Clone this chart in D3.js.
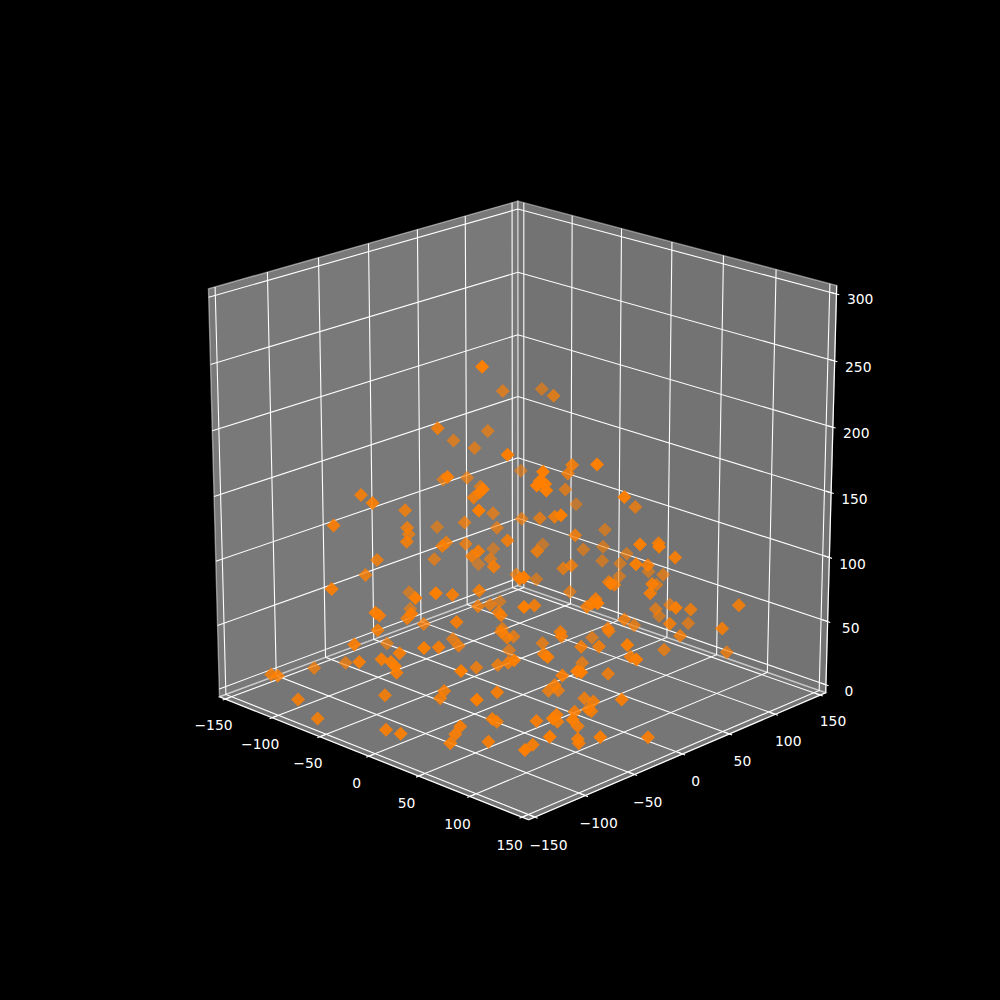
<!DOCTYPE html><html><head><meta charset="utf-8"><script src="https://cdn.jsdelivr.net/npm/d3@7"></script></head><body style="margin:0;background:#000"><svg width="1000" height="1000" style="display:block;background:#000"></svg><script>
const xTicks=[-150,-100,-50,0,50,100,150];
const yTicks=[-150,-100,-50,0,50,100,150];
const zTicks=[0,50,100,150,200,250,300];
const xs=[56,-99,-102,-48,-55,-117,-100,-104,82,57,-115,-103,-122,102,20,-4,-94,102,101,105,-48,75,-25,76,107,-86,77,-83,-134,-73,-78,0,-67,-34,20,118,11,-51,-33,-55,-69,-106,-16,19,
-123,-128,-76,-3,-97,-6,14,-13,-60,110,108,-71,59,13,-6,-28,-28,-45,-87,9,-16,115,25,20,-76,52,-58,43,44,128,115,15,-43,-41,131,78,147,120,-27,-29,-39,132,76,-11,
19,-27,14,148,40,112,17,113,55,148,85,21,28,148,84,2,130,51,35,97,41,125,44,-83,-43,-82,-59,-78,-100,-52,-88,-91,-45,-137,39,-134,-5,-39,-1,-21,-52,-28,-116,-4,
-127,-123,-18,-12,14,18,-2,-110,-103,-81,-37,-63,2,23,47,15,-59,-31,83,-18,12,16,-27,-50,-7,21,87,-11,38,103,56,82,14,147,147,49,20,25,-7,-8,52,98,50,54,
35,77,86,147,66,64,126,82,66,148,39,38,37,56,101,102,82,139,-8,65,141,45,83,88,55,83,147,52,72,116,72,143,136];
const ys=[-98,81,126,82,-31,47,66,56,-100,-133,34,47,124,-86,30,51,52,-89,-91,-87,95,-120,-25,-118,-88,147,-123,54,46,14,53,-16,68,53,12,-85,43,118,-49,-23,11,15,-36,-65,
95,84,44,-27,122,21,36,56,55,-113,-115,88,-147,-85,-39,79,-18,12,65,-32,-9,-118,-14,-88,-26,12,38,-6,-6,-60,-18,103,133,129,-19,59,-17,30,140,135,126,-24,50,147,
130,132,76,-67,54,15,125,12,18,-80,-18,120,128,0,88,145,88,53,81,51,134,76,43,-81,-108,-38,-131,-40,-17,-66,-61,-70,-147,19,-147,17,-108,-79,-147,-124,-96,-142,-25,-121,
-89,-61,-147,-131,-147,-147,-126,-147,-147,-148,-104,-146,-141,-147,-147,-101,-13,-35,-147,-30,-35,-33,18,37,-19,-37,-99,32,-18,-82,2,-45,48,-99,-95,-18,6,11,-74,-77,-80,-147,12,-87,
-63,-66,-55,-123,-33,-13,-81,-29,-1,-127,-104,-108,-112,-93,-49,-49,-75,-142,82,11,-42,43,78,124,92,25,-39,35,-2,-20,-4,-71,-14];
const zs=[283,186,176,194,195,151,158,146,226,212,124,125,106,215,170,152,119,209,206,207,117,202,148,204,203,82,190,100,78,106,90,119,96,109,135,187,110,62,115,105,91,68,108,129,
50,39,68,101,53,99,89,74,57,147,146,41,131,100,85,45,61,49,25,68,57,128,75,82,36,74,19,57,54,220,182,117,76,64,151,117,153,125,59,52,54,138,102,47,
57,43,65,140,76,107,50,101,79,129,94,33,36,103,59,15,75,52,35,62,23,59,46,150,161,127,146,115,98,118,93,83,106,32,122,20,87,66,100,86,58,67,9,61,
5,2,58,57,67,65,48,22,23,11,14,1,10,15,87,65,25,34,80,19,57,53,27,4,21,36,75,22,42,77,47,46,9,84,82,21,1,1,17,12,35,63,2,17,
2,16,20,56,2,3,36,2,2,44,12,7,1,2,4,1,2,36,13,47,85,44,41,16,18,40,75,15,10,30,3,25,5];

const azim=-46*Math.PI/180, elev=20*Math.PI/180, dist=10;
const w=[Math.cos(elev)*Math.cos(azim),Math.cos(elev)*Math.sin(azim),Math.sin(elev)];
const u=[-Math.sin(azim),Math.cos(azim),0];
const v=[w[1]*u[2]-w[2]*u[1],w[2]*u[0]-w[0]*u[2],w[0]*u[1]-w[1]*u[0]];
const dot=(a,b)=>a[0]*b[0]+a[1]*b[1]+a[2]*b[2];
const sx=d3.scaleLinear().domain([-0.095,0.09]).range([125,900]);
const sy=d3.scaleLinear().domain([-0.095,0.09]).range([890,120]);
const bx=d3.scaleLinear().domain([-150,150]).range([0,1]);
const by=d3.scaleLinear().domain([-150,150]).range([0,1]);
const bz=d3.scaleLinear().domain([0,300]).range([0,1]);
const depth=b=>dot([b[0]-.5,b[1]-.5,b[2]-.5],w);
function proj(b){const p=[b[0]-.5,b[1]-.5,b[2]-.5];const d=dist-dot(p,w);return [sx(dot(p,u)/d),sy(dot(p,v)/d)];}
const svg=d3.select('svg');
const line=pts=>d3.line()(pts.map(proj));
const E=1/48, lo=-E, hi=1+E, TO=1/120, TI=1/60;
const GRID='#fff', LW=1.1;
const panes=[
 {c:'rgba(242,242,242,.5)',p:[[lo,lo,lo],[lo,hi,lo],[lo,hi,hi],[lo,lo,hi]]},
 {c:'rgba(230,230,230,.5)',p:[[lo,hi,lo],[hi,hi,lo],[hi,hi,hi],[lo,hi,hi]]},
 {c:'rgba(236,236,236,.5)',p:[[lo,lo,lo],[hi,lo,lo],[hi,hi,lo],[lo,hi,lo]]}];
svg.selectAll('path.pane').data(panes).join('path').attr('class','pane')
 .attr('d',d=>line(d.p)+'Z').attr('fill',d=>d.c).attr('stroke',d=>d.c).attr('stroke-width',1.39);
[[[lo,lo,lo],[hi,lo,lo]],[[hi,lo,lo],[hi,hi,lo]],[[hi,hi,lo],[hi,hi,hi]]].forEach(s=>
 svg.append('path').attr('d',line(s)).attr('stroke','#fff').attr('stroke-width',LW).attr('fill','none'));
const gridPaths=[];
xTicks.forEach(t=>{const b=bx(t);gridPaths.push([[b,lo,lo],[b,hi,lo],[b,hi,hi]]);});
yTicks.forEach(t=>{const b=by(t);gridPaths.push([[hi,b,lo],[lo,b,lo],[lo,b,hi]]);});
zTicks.forEach(t=>{const b=bz(t);gridPaths.push([[lo,lo,b],[lo,hi,b],[hi,hi,b]]);});
svg.append('g').selectAll('path').data(gridPaths).join('path').attr('d',line)
 .attr('fill','none').attr('stroke',GRID).attr('stroke-width',LW);
const fmt=t=>String(t).replace('-','\u2212');
function label(pos,t){const q=proj(pos);svg.append('text').attr('x',q[0]).attr('y',q[1]).attr('dy','.44em').attr('text-anchor','middle')
 .attr('font-family','DejaVu Sans').attr('font-size',13.89).attr('fill','#fff').text(fmt(t));}
function tick(a,b){svg.append('path').attr('d',line([a,b])).attr('stroke','#fff').attr('stroke-width',LW);}
xTicks.forEach(t=>{const b=bx(t);tick([b,lo-TO,lo],[b,lo+TI,lo]);label([b,lo-.0402,lo-.054],t);});
yTicks.forEach(t=>{const b=by(t);tick([hi+TO,b,lo],[hi-TI,b,lo]);label([hi+.0423,b,lo-.054],t);});
zTicks.forEach(t=>{const b=bz(t);tick([hi+TO,hi,b],[hi-TI,hi,b]);label([hi+.0617,hi+.0126,b],t);});
const alpha=d3.scaleLinear().domain([-.6,0,.5]).range([.55,.85,1]).clamp(true);
const pts=xs.map((x,i)=>[bx(x),by(ys[i]),bz(zs[i])]).sort((a,b)=>depth(a)-depth(b));
const diamond=d3.symbol().type(d3.symbolSquare).size(2*7*7);
svg.append('g').selectAll('path').data(pts).join('path')
 .attr('transform',d=>{const q=proj(d);return `translate(${q[0]},${q[1]}) rotate(45)`;})
 .attr('d',diamond()).attr('fill','#ff7f00').attr('fill-opacity',d=>alpha(depth(d)));
</script></body></html>
